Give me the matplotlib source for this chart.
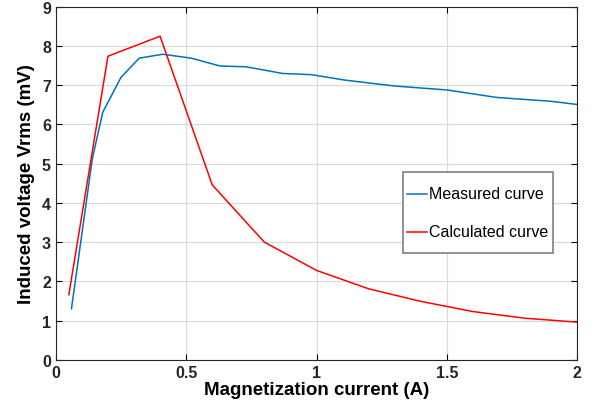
import matplotlib
matplotlib.use("Agg")
import matplotlib.pyplot as plt

plt.rcParams['font.family'] = ['Liberation Sans', 'DejaVu Sans']

# measured curve
meas_x = [0.06, 0.14, 0.18, 0.25, 0.32, 0.41, 0.52, 0.63, 0.73, 0.87, 0.98, 1.11, 1.30, 1.50, 1.69, 1.90, 2.00]
meas_y = [1.30, 5.12, 6.31, 7.20, 7.69, 7.79, 7.69, 7.49, 7.47, 7.30, 7.27, 7.13, 6.98, 6.88, 6.69, 6.59, 6.51]

# calculated curve
calc_x = [0.05, 0.20, 0.40, 0.60, 0.80, 1.00, 1.20, 1.40, 1.60, 1.80, 2.00]
calc_y = [1.66, 7.74, 8.25, 4.46, 3.00, 2.28, 1.81, 1.49, 1.23, 1.06, 0.96]

fig = plt.figure(figsize=(6, 4.1), dpi=100)
ax = fig.add_axes([0.093, 0.120, 0.869, 0.861])

ax.plot(meas_x, meas_y, color='#0072BD', lw=1.1, label='Measured curve')
ax.plot(calc_x, calc_y, color='#FF0000', lw=1.1, label='Calculated curve')

ax.set_xlim(0, 2)
ax.set_ylim(0, 9)
ax.set_xticks([0, 0.5, 1, 1.5, 2])
ax.set_xticklabels(['0', '0.5', '1', '1.5', '2'])
ax.set_yticks(range(10))
ax.grid(True, color='#d9d9d9', lw=0.8)
ax.tick_params(direction='in', top=True, right=True, length=4, width=0.8,
               labelsize=11.5)
for lab in ax.get_xticklabels() + ax.get_yticklabels():
    lab.set_fontweight('bold')
    lab.set_color('#262626')
for s in ax.spines.values():
    s.set_color('#262626')
    s.set_linewidth(0.8)

ax.set_xlabel('Magnetization current (A)', fontsize=13.5, fontweight='bold', labelpad=1)
ax.set_ylabel('Induced voltage Vrms (mV)', fontsize=13.5, fontweight='bold', labelpad=5)

leg = ax.legend(loc='upper left', bbox_to_anchor=(0.666, 0.533),
                fontsize=11.5, handlelength=1.25, handletextpad=0.15,
                handleheight=2.95, borderpad=0.25, labelspacing=0.27,
                fancybox=False, framealpha=1, borderaxespad=0)
leg.get_frame().set_edgecolor('#7f7f7f')
leg.get_frame().set_linewidth(1.2)
# tall handle boxes put the line above the text; move it down to the text
for ln in leg.get_lines():
    ln.set_ydata([y - 5 for y in ln.get_ydata()])

fig.savefig('out.png', dpi=100)
